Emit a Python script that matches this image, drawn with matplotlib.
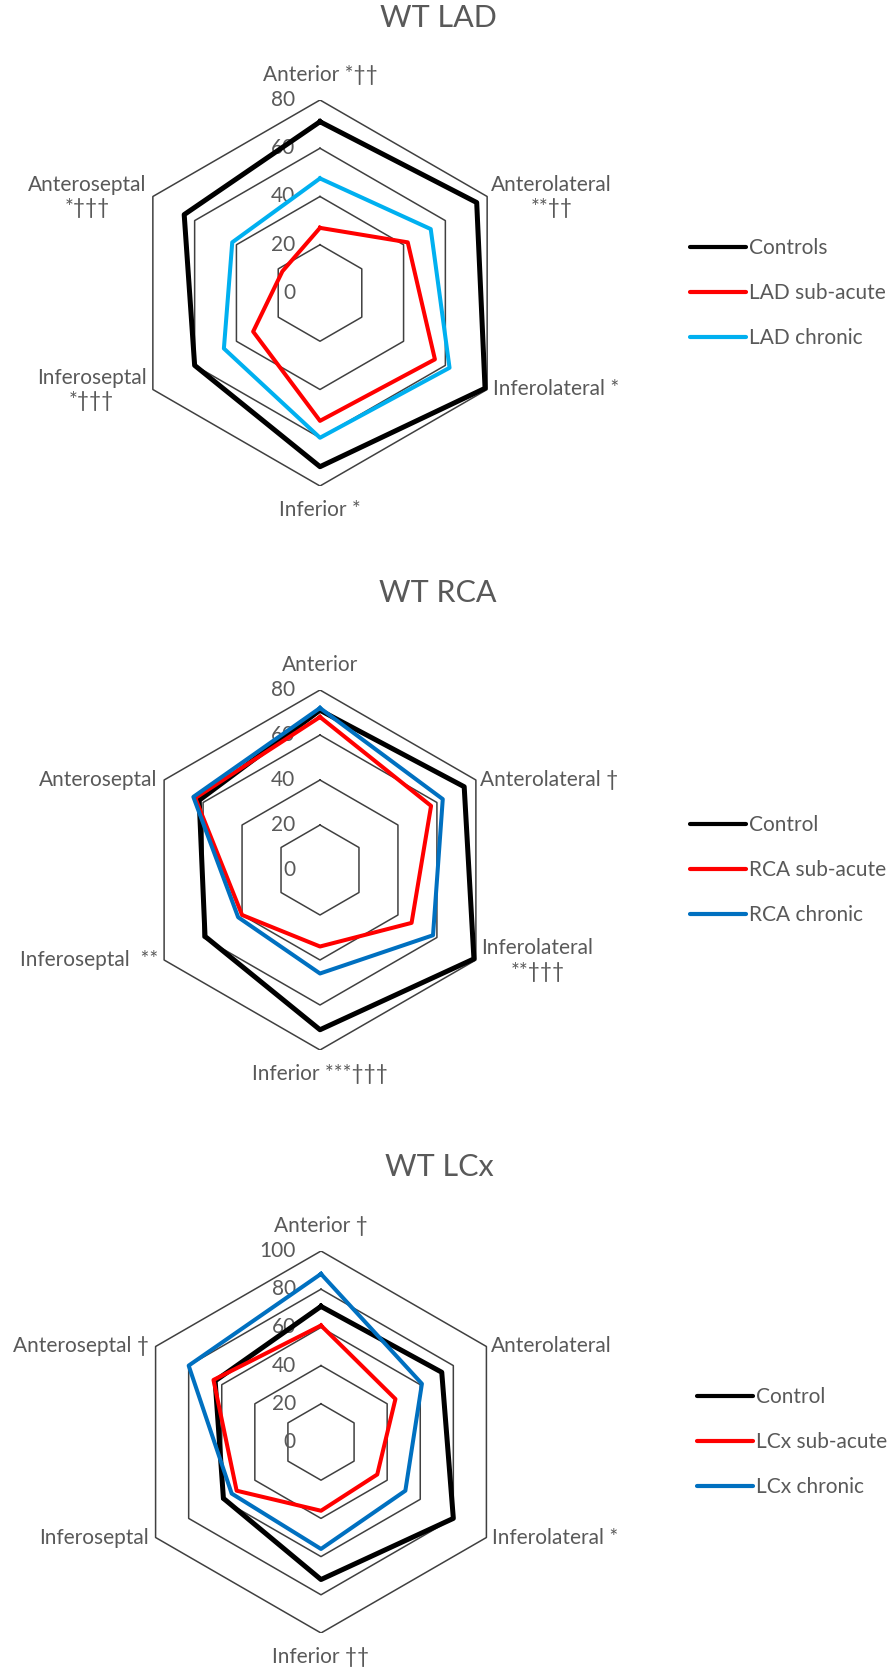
import numpy as np
import matplotlib
matplotlib.use("Agg")
from matplotlib import pyplot as plt

plt.rcParams['font.family'] = ['Lato', 'DejaVu Sans']

W, H = 894, 1671  # figure size in px
TEXT = "#595959"
GRID = "#404040"

#segments, clockwise from the top
angles = np.deg2rad([0, 60, 120, 180, 240, 300])

#WT LAD
lad_labels = ["Anterior *††", "Anterolateral\n**††", "Inferolateral *",
              "Inferior *", "Inferoseptal\n*†††", "Anteroseptal\n*†††"]
lad_names = ["Controls", "LAD sub-acute", "LAD chronic"]
lad_control = [71, 75, 79, 72, 60, 65]
lad_subacute = [27, 42, 55, 53, 32, 18]
lad_chronic = [47.5, 53, 62, 60, 46, 42]

#WT RCA
rca_labels = ["Anterior", "Anterolateral †", "Inferolateral\n**†††",
              "Inferior ***†††", "Inferoseptal  **", "Anteroseptal"]
rca_names = ["Control", "RCA sub-acute", "RCA chronic"]
rca_control = [71, 74, 79, 71, 59, 62]
rca_subacute = [68, 57, 47, 34, 40, 64]
rca_chronic = [72, 63, 58, 46, 42, 65]

#WT LCx
lcx_labels = ["Anterior †", "Anterolateral", "Inferolateral *",
              "Inferior ††", "Inferoseptal", "Anteroseptal †"]
lcx_names = ["Control", "LCx sub-acute", "LCx chronic"]
lcx_control = [71, 73, 80, 72, 59, 64]
lcx_subacute = [61, 45, 34, 36, 51, 65]
lcx_chronic = [88, 61, 51, 56, 54, 80]


def radar(fig, cx, cy, rpx, rmax, step, labels, names, series, colors,
          title, title_x, title_y, legend_x):
    ax = fig.add_axes([(cx - rpx) / W, 1 - (cy + rpx) / H, 2 * rpx / W, 2 * rpx / H])
    ax.set_xlim(-rmax, rmax)
    ax.set_ylim(-rmax, rmax)
    ax.axis('off')
    closed = np.append(angles, angles[0])

    #rings
    for lvl in range(step, rmax + 1, step):
        ax.plot(lvl * np.sin(closed), lvl * np.cos(closed), color=GRID, lw=1.1, zorder=1)
    for lvl in range(0, rmax + 1, step):
        ax.annotate(str(lvl), (0, lvl), xytext=(-18, 0), textcoords='offset points',
                    ha='right', va='center', fontsize=15, color=TEXT, zorder=2)

    #series
    handles = []
    for vals, color, lw in zip(series, colors, [3.6, 2.9, 2.9]):
        v = np.append(vals, vals[0])
        ln, = ax.plot(v * np.sin(closed), v * np.cos(closed), color=color, lw=lw,
                      solid_joinstyle='round', zorder=3)
        handles.append(ln)

    #category labels
    offsets = [((0, 18), 'center'), ((3, 0), 'left'), ((4, 0), 'left'),
               ((0, -17), 'center'), ((-4.5, 0), 'right'), ((-4.5, 0), 'right')]
    for a, lab, (off, ha) in zip(angles, labels, offsets):
        ax.annotate(lab, (rmax * np.sin(a), rmax * np.cos(a)), xytext=off,
                    textcoords='offset points', ha=ha, va='center',
                    multialignment='center', fontsize=15, color=TEXT,
                    annotation_clip=False)

    fig.text(title_x / W, 1 - title_y / H, title, ha='center', va='center',
             fontsize=22, color=TEXT)

    leg = fig.legend(handles, names, loc='center left',
                     bbox_to_anchor=(legend_x / W, 1 - cy / H),
                     frameon=False, fontsize=15, labelcolor=TEXT,
                     handlelength=2.7, handletextpad=0.15, labelspacing=1.2,
                     borderpad=0, borderaxespad=0)
    for h in leg.get_lines():
        h.set_linewidth(3)
        h.set_solid_capstyle('round')
    return ax


fig = plt.figure(figsize=(W / 100, H / 100), dpi=100)

radar(fig, 320, 293, 193, 80, 20, lad_labels, lad_names,
      [lad_control, lad_subacute, lad_chronic], ["#000000", "#FF0000", "#00B0F0"],
      "WT LAD", 438, 18, 690)
radar(fig, 320, 870, 180, 80, 20, rca_labels, rca_names,
      [rca_control, rca_subacute, rca_chronic], ["#000000", "#FF0000", "#0070C0"],
      "WT RCA", 438, 593, 690)
radar(fig, 321, 1442, 191, 100, 20, lcx_labels, lcx_names,
      [lcx_control, lcx_subacute, lcx_chronic], ["#000000", "#FF0000", "#0070C0"],
      "WT LCx", 439, 1167, 697)

fig.savefig("out.png", dpi=100, facecolor="white")
